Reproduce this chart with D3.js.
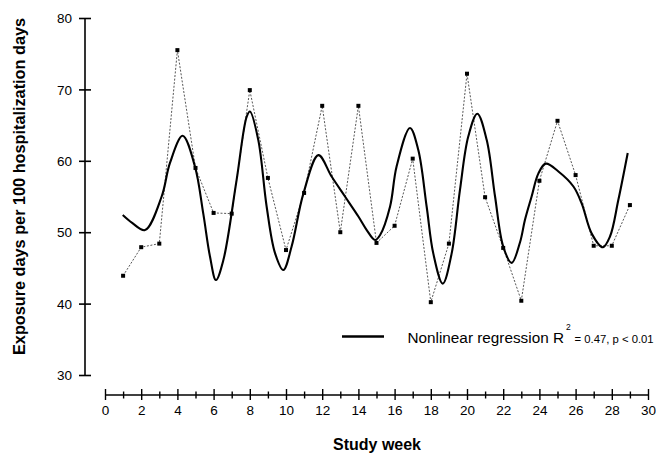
<!DOCTYPE html>
<html>
<head>
<meta charset="utf-8">
<script src="https://cdn.jsdelivr.net/npm/d3@7"></script>
<style>
  html, body { margin: 0; padding: 0; background: #fff; }
  svg { display: block; }
  text { font-family: Arial, "Liberation Sans", sans-serif; fill: #000; }
</style>
</head>
<body>
<svg id="chart" width="656" height="453"></svg>
<script>
// ---- data ----
const weeks = [1,2,3,4,5,6,7,8,9,10,11,12,13,14,15,16,17,18,19,20,21,22,23,24,25,26,27,28,29];
const exposure = [43.9,47.9,48.4,75.5,59.0,52.7,52.6,69.9,57.6,47.5,55.5,67.7,50.0,67.7,48.5,50.9,60.3,40.2,48.4,72.2,54.9,47.8,40.4,57.2,65.6,58.0,48.1,48.1,53.8];

const fitWeeks = [0.98,1.5,2.21,3.13,3.59,4.29,4.97,5.43,5.8,6.13,6.54,7.27,7.83,8.01,8.47,8.93,9.39,9.85,10.31,10.96,11.79,12.52,13.26,14.0,14.46,14.92,15.2,15.75,16.11,16.85,17.31,17.77,18.14,18.66,19.15,19.61,20.07,20.57,21.09,21.55,22.0,22.47,22.93,23.2,23.57,23.94,24.35,25.05,25.88,26.34,26.89,27.5,27.9,28.36,28.88];
const fitValues = [52.4,51.3,50.3,55.0,59.7,63.5,59.2,52.6,46.6,43.3,46.1,57.3,66.2,66.9,62.9,53.6,47.1,44.7,48.0,55.4,60.8,57.8,55.0,52.2,50.3,48.9,49.6,53.6,59.2,64.6,61.5,53.6,47.0,42.8,47.0,55.9,63.4,66.6,62.9,55.0,48.0,45.7,48.6,51.7,55.0,58.2,59.6,58.5,56.4,54.0,49.8,47.9,49.4,54.5,61.1];

const yTicks = [30,40,50,60,70,80];
const xTicks = d3.range(0,31);
const xLabels = d3.range(0,31,2);

const yTitle = "Exposure days per 100 hospitalization days";
const xTitle = "Study week";
const legendMain = "Nonlinear regression R";
const legendSup = "2";
const legendStat = "= 0.47, p < 0.01";

// ---- layout ----
const svg = d3.select("#chart");
const x = d3.scaleLinear().domain([0,30]).range([105,648]);
const y = d3.scaleLinear().domain([30,80]).range([375,18]);
const yAxisX = 85;
const xAxisY = 395;

// Y axis
const yAxis = d3.axisLeft(y).tickValues(yTicks).tickSize(0).tickPadding(0).tickFormat(d3.format("d"));
const gy = svg.append("g").attr("transform", `translate(${yAxisX},0)`).call(yAxis);
gy.select(".domain").remove();
gy.selectAll(".tick text").remove();
svg.append("line").attr("x1",yAxisX).attr("x2",yAxisX).attr("y1",y(80)).attr("y2",y(30))
  .attr("stroke","#000").attr("stroke-width",1.6);
gy.selectAll(".tick").append("line").attr("x1",-6).attr("x2",6).attr("stroke","#000").attr("stroke-width",1.6);
gy.selectAll(".tick").append("text")
  .attr("x",-13).attr("dy","0.35em").attr("text-anchor","end")
  .style("font-size","13.5px").text(d => d);

// X axis
const xAxis = d3.axisBottom(x).tickValues(xTicks).tickSize(0).tickFormat("");
const gx = svg.append("g").attr("transform", `translate(0,${xAxisY})`).call(xAxis);
gx.select(".domain").remove();
svg.append("line").attr("x1",x(0)).attr("x2",x(30)).attr("y1",xAxisY).attr("y2",xAxisY)
  .attr("stroke","#000").attr("stroke-width",1.4);
gx.selectAll(".tick").append("line")
  .attr("y1", d => d % 2 === 0 ? -6 : -3.5)
  .attr("y2", d => d % 2 === 0 ? 5 : 3.5)
  .attr("stroke","#000").attr("stroke-width",1.4);
gx.selectAll(".tick").filter(d => xLabels.includes(d)).append("text")
  .attr("y",20).attr("text-anchor","middle")
  .style("font-size","13.5px").text(d => d);

// Observed series (dotted)
const obs = weeks.map((w,i) => [w, exposure[i]]);
svg.append("path").datum(obs)
  .attr("d", d3.line().x(d => x(d[0])).y(d => y(d[1])))
  .attr("fill","none").attr("stroke","#444").attr("stroke-width",0.9)
  .attr("stroke-dasharray","2,1.6");
svg.selectAll("rect.pt").data(obs).enter().append("rect").attr("class","pt")
  .attr("x", d => x(d[0]) - 2).attr("y", d => y(d[1]) - 2)
  .attr("width",4).attr("height",4).attr("fill","#000");

// Fitted curve
const fit = fitWeeks.map((w,i) => [w, fitValues[i]]);
svg.append("path").datum(fit)
  .attr("d", d3.line().curve(d3.curveCatmullRom.alpha(0.5)).x(d => x(d[0])).y(d => y(d[1])))
  .attr("fill","none").attr("stroke","#000").attr("stroke-width",2.1);

// Legend
svg.append("line").attr("x1",342).attr("x2",384).attr("y1",336.5).attr("y2",336.5)
  .attr("stroke","#000").attr("stroke-width",2.6);
svg.append("text").attr("x",407.5).attr("y",343).style("font-size","15.3px").text(legendMain);
svg.append("text").attr("x",566).attr("y",330).style("font-size","8.5px").text(legendSup);
svg.append("text").attr("x",574.5).attr("y",343).style("font-size","11.3px").text(legendStat);

// Titles
svg.append("text").attr("transform","translate(25,186.5) rotate(-90)")
  .attr("text-anchor","middle").attr("textLength",337).attr("lengthAdjust","spacingAndGlyphs")
  .style("font-size","16px").style("font-weight","bold").text(yTitle);
svg.append("text").attr("x",377).attr("y",449.5)
  .attr("text-anchor","middle").style("font-size","16px").style("font-weight","bold").text(xTitle);
</script>
</body>
</html>
